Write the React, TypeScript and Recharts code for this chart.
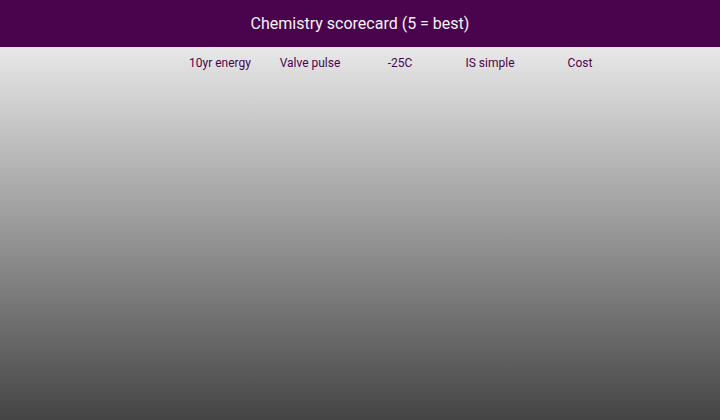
import React from 'react';
import { BarChart, Bar, XAxis, YAxis } from 'recharts';

// criteria across the top of the scorecard
const criteria = ['10yr energy', 'Valve pulse', '-25C', 'IS simple', 'Cost'];
// chemistries scored 1..5 per criterion (none listed yet)
const chemistries: string[] = [];
const scores: (number | null)[] = [null, null, null, null, null];

const data = criteria.map((c, i) => ({ criterion: c, score: scores[i] }));

const purple = '#4a044e';

export default function App() {
  return (
    <div style={{ width: 720, height: 420, fontFamily: 'Roboto, sans-serif', position: 'absolute', left: 0, top: 0 }}>
      <style>{'body{margin:0}'}</style>
      <div
        style={{
          height: 47,
          background: purple,
          color: '#f3f3f3',
          fontSize: 16,
          display: 'flex',
          alignItems: 'center',
          justifyContent: 'center',
        }}
      >
        Chemistry scorecard (5 = best)
      </div>
      <div style={{ height: 373, background: 'linear-gradient(#e8e8e8, #444444)' }}>
        <BarChart width={720} height={373} data={data} margin={{ top: 0, right: 95, bottom: 0, left: 175 }}>
          <XAxis
            dataKey="criterion"
            orientation="top"
            height={28}
            tickLine={false}
            axisLine={false}
            tick={{ fill: purple, fontSize: 12 }}
            interval={0}
          />
          <YAxis type="number" domain={[0, 5]} hide />
          <Bar dataKey="score" fill={purple} isAnimationActive={false} name={chemistries.join(', ')} />
        </BarChart>
      </div>
    </div>
  );
}
